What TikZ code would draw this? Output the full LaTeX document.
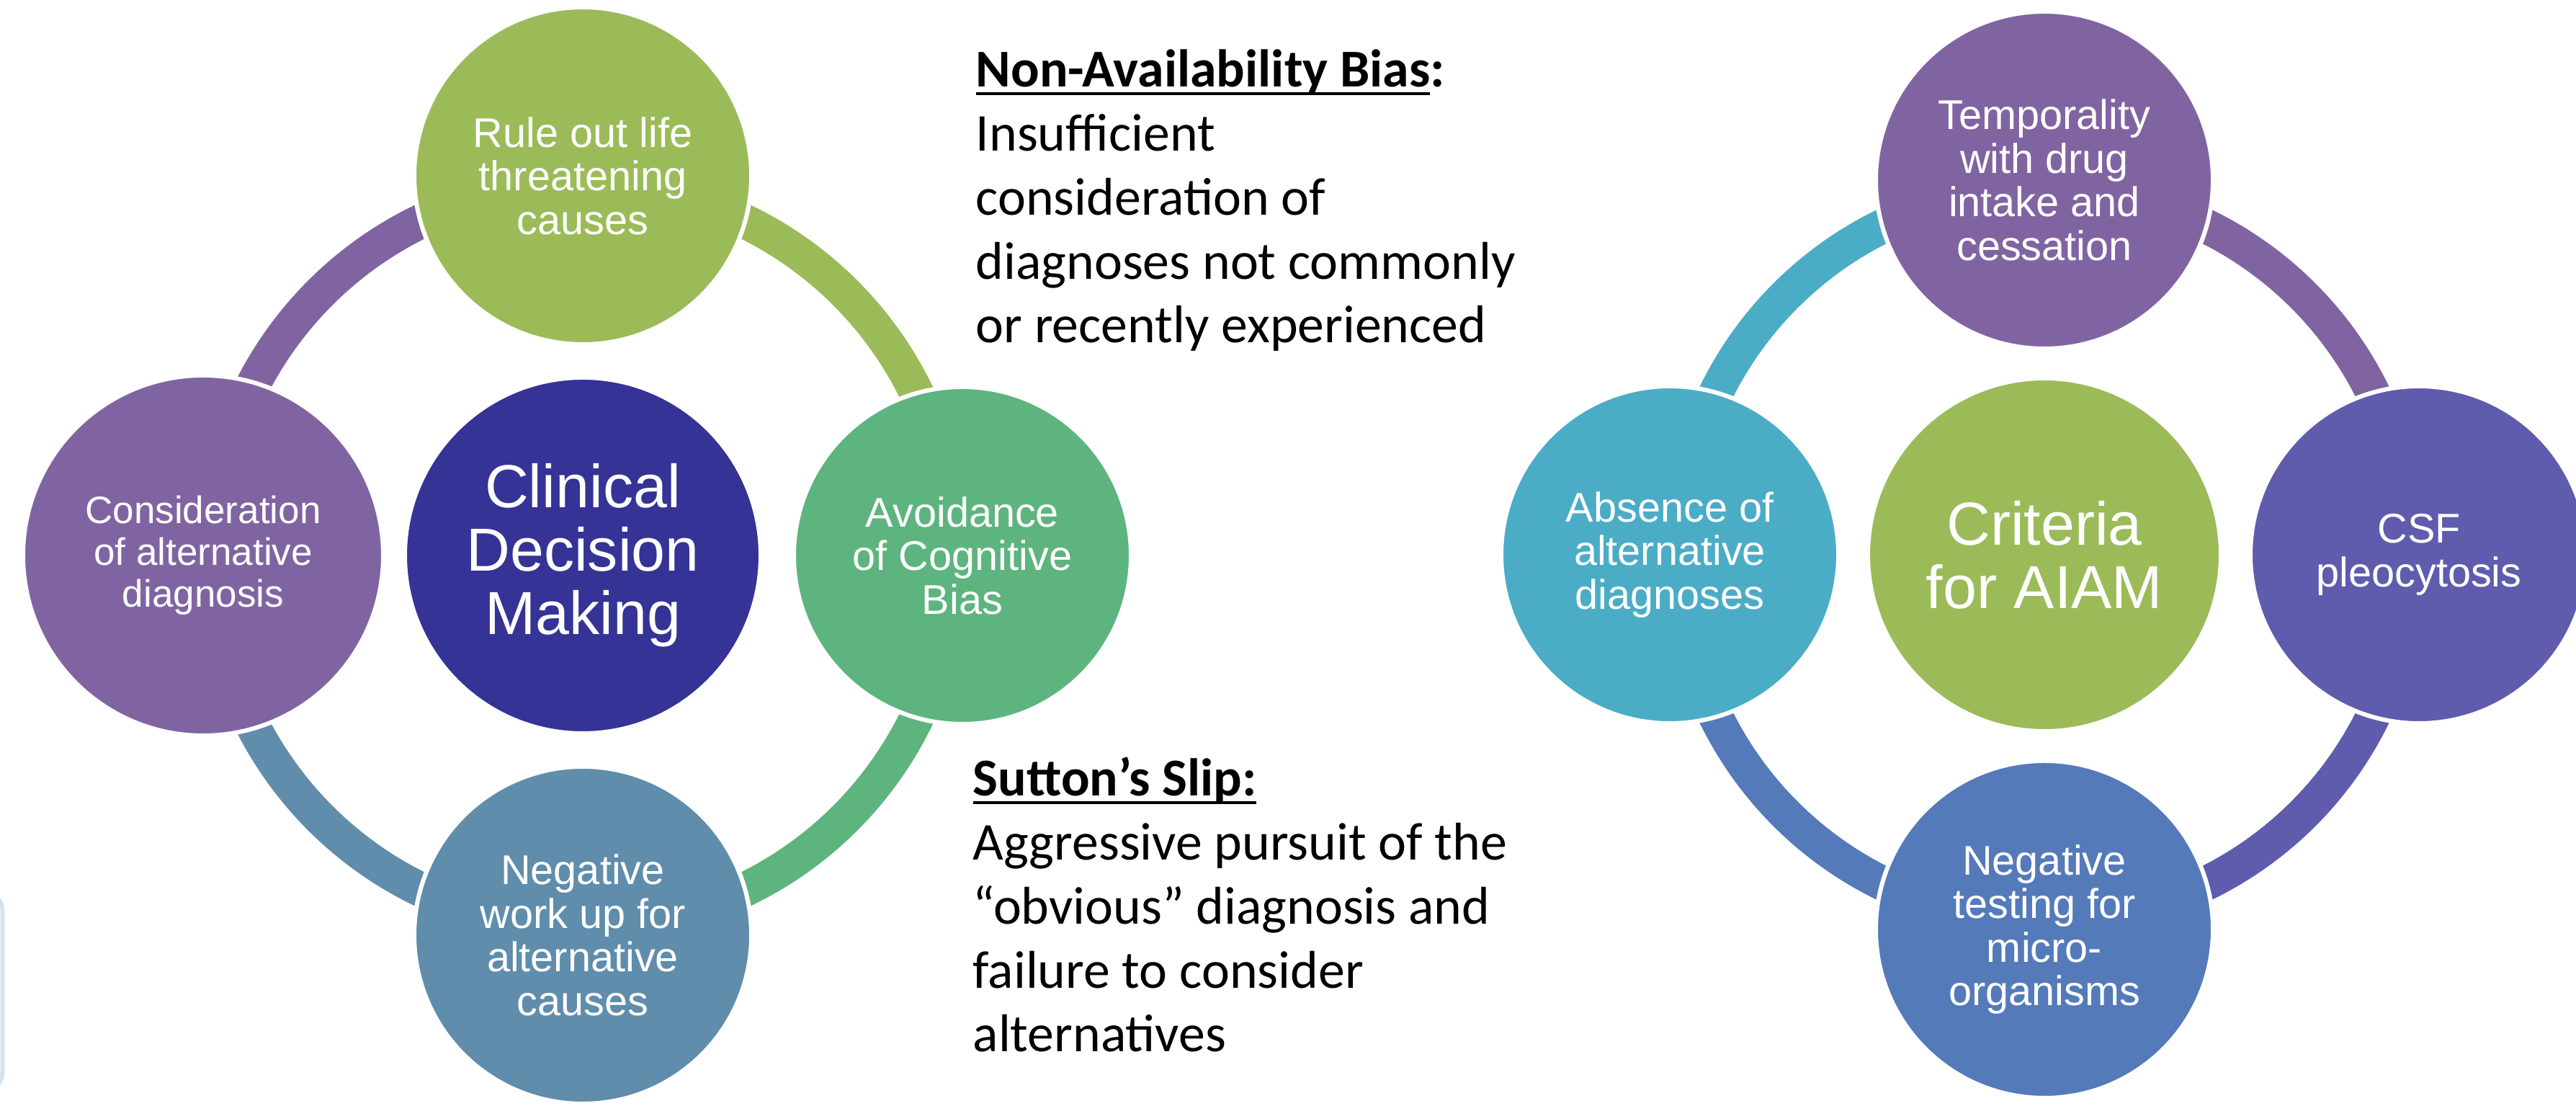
\documentclass[tikz,border=0pt]{standalone}
\usepackage{fontspec}
\setmainfont{Liberation Sans}
\newfontfamily\calibri{Carlito}
\usepackage{tikz}
\usetikzlibrary{backgrounds}
\definecolor{rulegreen}{RGB}{155,187,89}
\definecolor{clinnavy}{RGB}{53,51,150}
\definecolor{considerpurple}{RGB}{128,100,162}
\definecolor{biasgreen}{RGB}{94,180,126}
\definecolor{workblue}{RGB}{95,141,171}
\definecolor{absenceaqua}{RGB}{75,172,198}
\definecolor{csfindigo}{RGB}{95,92,174}
\definecolor{testblue}{RGB}{84,122,186}
\definecolor{edgeblue}{RGB}{211,228,236}
\newcommand{\biasheading}[1]{\setbox0\hbox{#1}\rlap{\rule[-3.3pt]{\wd0}{1.15pt}}\box0}

\begin{document}
\begin{tikzpicture}[node distance=5.27cm,
    bubble/.style={circle, draw=white, line width=0.6mm, inner sep=0pt, minimum size=4.68cm, text=white, align=center, font=\fontsize{16.4}{17.2}\selectfont},
    hub/.style={bubble, minimum size=4.94cm, font=\fontsize{24}{25}\selectfont},
    ring/.style={line width=0.48cm},
    sidenote/.style={align=left, inner sep=0pt, anchor=base west, font=\calibri\fontsize{21}{25.3}\selectfont}]
    \useasboundingbox (0,0) rectangle (35.76,15.42);
    \draw[edgeblue, line width=0.6mm, rounded corners=0.3cm] (-1,0.25) rectangle (0.035,3.07);

    % clinical decision making
    \node[hub, fill=clinnavy] (clin) at (8.09,7.71) {Clinical\\Decision\\Making};
    \node[bubble, fill=rulegreen, above of=clin] (rule) {Rule out life\\threatening\\causes};
    \node[bubble, fill=biasgreen, right of=clin] (bias) {Avoidance\\of Cognitive\\Bias};
    \node[bubble, fill=workblue, below of=clin] (workup) {Negative\\work up for\\alternative\\causes};
    \node[bubble, fill=considerpurple, minimum size=5cm, font=\fontsize{15.1}{16.5}\selectfont, left of=clin] (consider) {Consideration\\of alternative\\diagnosis};

    % the two biases (anchored on the last line)
    \node[sidenote] (nonavail) at (13.54,10.66) {\biasheading{\textbf{Non-Availability Bias}}\textbf{:}\\Insufficient\\consideration of\\diagnoses not commonly\\or recently experienced};
    \node[sidenote] (sutton) at (13.50,0.82) {\biasheading{\textbf{Sutton’s Slip:}}\\Aggressive pursuit of the\\“obvious” diagnosis and\\failure to consider\\alternatives};

    % criteria for AIAM
    \begin{scope}[node distance=5.2cm]
        \node[hub, fill=rulegreen, minimum size=4.9cm] (aiam) at (28.38,7.72) {Criteria\\for AIAM};
        \node[bubble, fill=considerpurple, above of=aiam] (temporal) {Temporality\\with drug\\intake and\\cessation};
        \node[bubble, fill=csfindigo, right of=aiam] (csf) {CSF\\pleocytosis};
        \node[bubble, fill=testblue, below of=aiam] (testing) {Negative\\testing for\\micro-\\organisms};
        \node[bubble, fill=absenceaqua, left of=aiam] (absence) {Absence of\\alternative\\diagnoses};
    \end{scope}

    % rings sit a little inside the node centres
    \begin{pgfonlayer}{background}
        \draw[ring, rulegreen] ([yshift=-1.2mm]rule.center) to[bend left=45] ([xshift=-1.2mm]bias.center);
        \draw[ring, biasgreen] ([xshift=-1.2mm]bias.center) to[bend left=45] ([yshift=1.2mm]workup.center);
        \draw[ring, workblue] ([yshift=1.2mm]workup.center) to[bend left=45] ([xshift=1.2mm]consider.center);
        \draw[ring, considerpurple] ([xshift=1.2mm]consider.center) to[bend left=45] ([yshift=-1.2mm]rule.center);

        \draw[ring, considerpurple] ([yshift=-1.2mm]temporal.center) to[bend left=45] ([xshift=-1.2mm]csf.center);
        \draw[ring, csfindigo] ([xshift=-1.2mm]csf.center) to[bend left=45] ([yshift=1.2mm]testing.center);
        \draw[ring, testblue] ([yshift=1.2mm]testing.center) to[bend left=45] ([xshift=1.2mm]absence.center);
        \draw[ring, absenceaqua] ([xshift=1.2mm]absence.center) to[bend left=45] ([yshift=-1.2mm]temporal.center);
    \end{pgfonlayer}
\end{tikzpicture}
\end{document}
